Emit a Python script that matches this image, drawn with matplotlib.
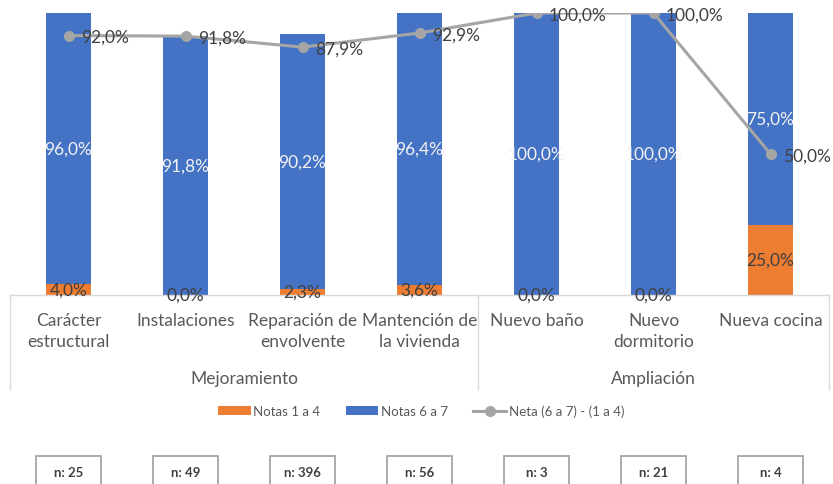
import numpy as np
import matplotlib
matplotlib.use("Agg")
import matplotlib.pyplot as plt
from matplotlib.patches import Rectangle

plt.rcParams["font.family"] = ["Lato", "DejaVu Sans"]

# ------------------------------------------------------------------ #
# Datos
# ------------------------------------------------------------------ #
categorias = ["Carácter\nestructural", "Instalaciones", "Reparación de\nenvolvente",
              "Mantención de\nla vivienda", "Nuevo baño", "Nuevo\ndormitorio",
              "Nueva cocina"]
grupos = ["Mejoramiento", "Ampliación"]
grupo_tam = [4, 3]
notas_1a4 = [4.0, 0.0, 2.3, 3.6, 0.0, 0.0, 25.0]
notas_6a7 = [96.0, 91.8, 90.2, 96.4, 100.0, 100.0, 75.0]
neta = [92.0, 91.8, 87.9, 92.9, 100.0, 100.0, 50.0]
n_vals = [25, 49, 396, 56, 3, 21, 4]

AZUL = "#4472C4"
NARANJA = "#ED7D31"
GRIS = "#A5A5A5"
TXT = "#595959"
EJE = "#D9D9D9"

def pct(v):
    return f"{v:.1f}%".replace(".", ",")

W, H = 833, 485
fig = plt.figure(figsize=(W / 100, H / 100), dpi=100)
ax = fig.add_axes([10 / W, 1 - 296 / H, 819 / W, 282 / H])

x = np.arange(len(categorias))
ancho = 0.39
b1 = ax.bar(x, notas_1a4, ancho, color=NARANJA, label="Notas 1 a 4", zorder=2)
b2 = ax.bar(x, notas_6a7, ancho, bottom=notas_1a4, color=AZUL, label="Notas 6 a 7", zorder=2)
ln, = ax.plot(x, neta, color=GRIS, linewidth=2.2, marker="o", markersize=7,
              label="Neta (6 a 7) - (1 a 4)", zorder=3)

for i in range(len(x)):
    ax.text(x[i], notas_1a4[i] / 2, pct(notas_1a4[i]), ha="center", va="center",
            fontsize=12.5, color="#404040", zorder=4, clip_on=False)
    ax.text(x[i], notas_1a4[i] + notas_6a7[i] / 2, pct(notas_6a7[i]), ha="center",
            va="center", fontsize=12.5, color="#F2F2F2", zorder=4)
    ax.annotate(pct(neta[i]), (x[i], neta[i]), xytext=(9, -1), textcoords="offset points",
                ha="left", va="center", fontsize=12.5, color="#404040", zorder=5,
                annotation_clip=False)

ax.set_xlim(-0.5, len(x) - 0.5)
ax.set_ylim(0, 100)
ax.set_yticks([])
for s in ["top", "left", "right"]:
    ax.spines[s].set_visible(False)
ax.spines["bottom"].set_color(EJE)
ax.spines["bottom"].set_linewidth(1.0)
ax.set_xticks(x)
ax.set_xticklabels(categorias, fontsize=12.5, color=TXT, linespacing=1.35)
ax.tick_params(axis="x", length=0, pad=12.5)

# separadores y etiquetas de grupo
trans = ax.get_xaxis_transform()
y_sep = (296 - 390) / 282
limites = np.concatenate([[0], np.cumsum(grupo_tam)]) - 0.5
for b in limites:
    ax.plot([b, b], [0, y_sep], color=EJE, linewidth=1.0, transform=trans, clip_on=False)
for g, a, b in zip(grupos, limites[:-1], limites[1:]):
    ax.text((a + b) / 2, (296 - 379) / 282, g, transform=trans, ha="center",
            va="center", fontsize=12.5, color=TXT)

# leyenda
fig.legend(handles=[b1, b2, ln], loc="center", bbox_to_anchor=(421 / W, 1 - 412 / H),
           ncol=3, frameon=False, fontsize=9.5, handlelength=2.5, handleheight=0.6,
           columnspacing=1.9, handletextpad=0.2, labelcolor=TXT)

# cajas n
caja_w = 0.55
y_top = (296 - 457) / 282
y_bot = (296 - 495) / 282
for i, n in enumerate(n_vals):
    ax.add_patch(Rectangle((x[i] - caja_w / 2, y_bot), caja_w, y_top - y_bot,
                           transform=trans, fill=False, edgecolor="#A6A6A6",
                           linewidth=1.3, clip_on=False))
    ax.text(x[i], (296 - 473) / 282, f"n: {n}", transform=trans, ha="center",
            va="center", fontsize=9.5, fontweight="bold", color="#404040")

fig.savefig("out.png", dpi=100)
